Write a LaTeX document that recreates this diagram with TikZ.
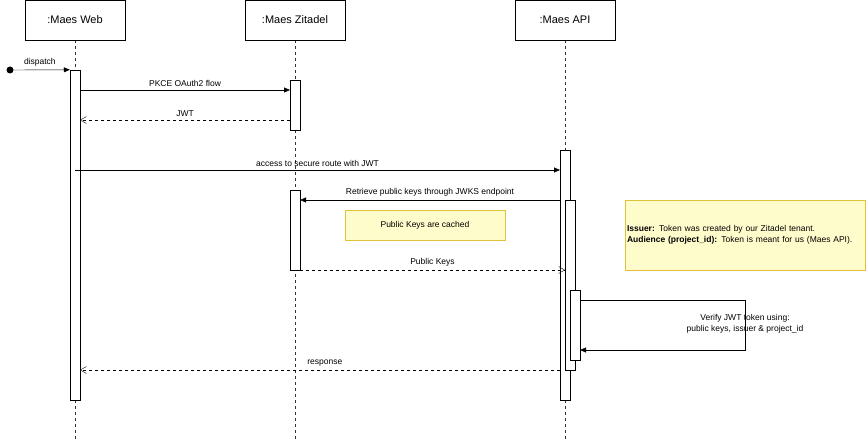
\documentclass[tikz,border=0pt]{standalone}
\usepackage{fontspec}
\setmainfont{Liberation Sans}
\usetikzlibrary{arrows.meta,positioning}
\tikzset{
    head/.style={draw,fill=white,minimum width=100pt,minimum height=40pt,inner sep=0pt,font=\fontsize{11}{13}\selectfont},
    act/.style={draw,fill=white,minimum width=10pt,inner sep=0pt},
    life/.style={dashed,black!80,thin},
    msg/.style={-{Triangle[length=6pt,width=5pt]},thin},
    ret/.style={dashed,-{Straight Barb[length=6pt,width=7pt]},thin},
    lbl/.style={font=\fontsize{8.5}{10}\selectfont,fill=white,inner sep=1pt},
    note/.style={draw=yellow!50!brown,fill=yellow!20,inner sep=2pt,font=\fontsize{8.5}{11}\selectfont}
}
\begin{document}
\begin{tikzpicture}[x=1pt,y=-1pt]
        \useasboundingbox (0,0) rectangle (867,441);

        % lifelines
        \foreach \n/\x/\t in {web/75/:Maes Web,zit/295/:Maes Zitadel,api/565/:Maes API} {
            \coordinate (\n end) at (\x,441);
            \draw[life] (\x,40) -- (\n end);
            \node[head] (\n) at (\x,20) {\t};
        }

        % activations
        \node[act,minimum height=330pt] (webA) at (75,235) {};
        \node[act,minimum height=50pt] (zitA) at (295,105) {};
        \node[act,minimum height=250pt] (apiA) at (565,275) {};
        \node[act,minimum height=80pt] (zitB) at (295,230) {};
        \node[act,minimum height=170pt] (apiB) at (570,285) {};
        \node[act,minimum height=70pt] (apiC) at (575,325) {};

        % dispatch
        \fill (10,70) circle (3.5pt) coordinate (start);
        \draw[msg] (start) -- (webA.north west) node[midway,above,font=\fontsize{8.5}{10}\selectfont] {dispatch};

        % messages
        \draw[msg] (80,90) -- (290,90) node[midway,above,font=\fontsize{8.5}{10}\selectfont] {PKCE OAuth2 flow};
        \draw[ret] (290,120) -- (80,120) node[midway,above,font=\fontsize{8.5}{10}\selectfont] {JWT};
        \draw[msg] (75,170) -- (560,170) node[midway,above,font=\fontsize{8.5}{10}\selectfont] {access to secure route with JWT};
        \draw[msg] (560,200) -- (300,200) node[midway,above,font=\fontsize{8.5}{10}\selectfont] {Retrieve public keys through JWKS endpoint};
        \draw[ret] (300,270) -- (565,270) node[midway,above,font=\fontsize{8.5}{10}\selectfont] {Public Keys};
        \draw[msg] (580,300) -- (745,300) -- (745,350) -- (580,350);
        \node[font=\fontsize{8.5}{11}\selectfont,align=center] (verify) at (745,324) {Verify JWT token using:\\public keys, issuer \& project\_id};
        \draw[ret] (560,370) -- (80,370) node[pos=0.49,above,font=\fontsize{8.5}{10}\selectfont] {response};

        % notes
        \node[note,minimum width=160pt,minimum height=30pt] (cached) at (425,225) {Public Keys are cached};
        \node[note,minimum width=240pt,minimum height=70pt,text width=236pt,align=left] (claims) at (745,235)
            {\textbf{Issuer:} Token was created by our Zitadel tenant.\\\textbf{Audience (project\_id):} Token is meant for us (Maes API).};

    \end{tikzpicture}
\end{document}
